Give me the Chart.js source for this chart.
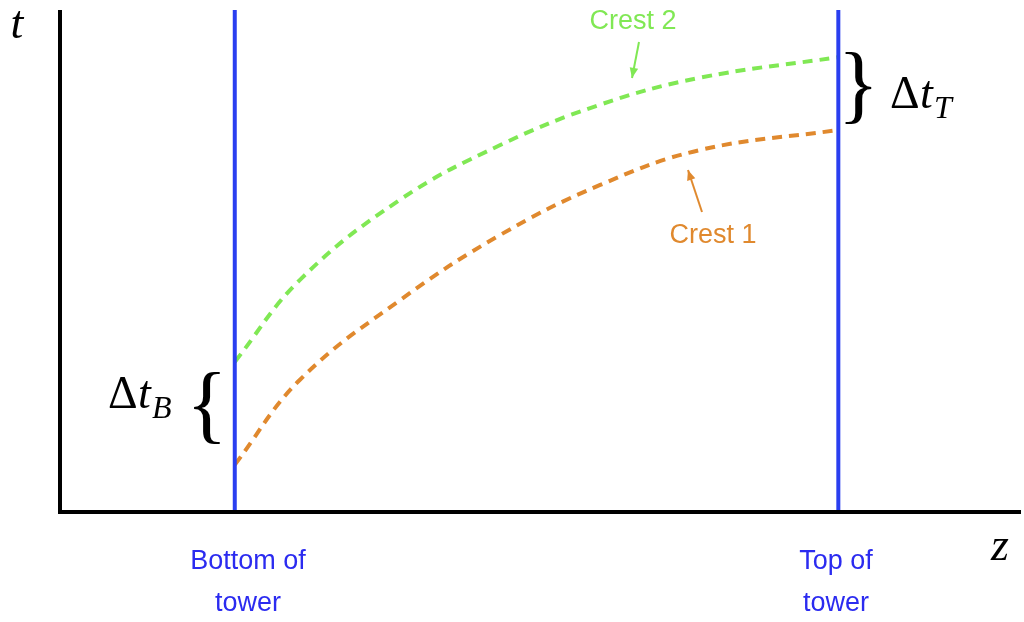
<!DOCTYPE html>
<html>
<head>
<meta charset="utf-8">
<script src="https://cdn.jsdelivr.net/npm/chart.js@4"></script>
<style>body{margin:0;background:#fff}</style>
</head>
<body>
<canvas id="c" width="1024" height="622"></canvas>
<script>
// positions along z (0..100) and t (0..100)
const crestZ = [18.3, 25.1, 35.6, 46.1, 56.5, 67.0, 81.5]
const crest2T = [29.9, 46.2, 62.2, 73.1, 81.1, 86.5, 90.6]
const crest1T = [9.4, 26.3, 42.2, 55.2, 65.1, 72.1, 76.1]
const bottomZ = 18.3
const topZ = 81.5

const pts = (xs, ys) => xs.map((x, i) => ({ x, y: ys[i] }))
const vline = (x) => [{ x, y: 0 }, { x, y: 100 }]

const labels = {
  id: 'labels',
  afterDraw (chart) {
    const { ctx, chartArea: a, scales: { x, y } } = chart
    ctx.save()
    // axes
    ctx.strokeStyle = '#000'
    ctx.lineWidth = 4
    ctx.beginPath()
    ctx.moveTo(a.left, a.top)
    ctx.lineTo(a.left, a.bottom)
    ctx.lineTo(a.right + 6, a.bottom)
    ctx.stroke()

    ctx.textAlign = 'center'
    ctx.textBaseline = 'middle'
    ctx.fillStyle = '#000'
    ctx.font = 'italic 46px "Liberation Serif"'
    ctx.fillText('t', 17, 26)
    ctx.fillText('z', 1000, 548)

    // braces
    ctx.font = '86px "Liberation Serif"'
    ctx.fillText('}', x.getPixelForValue(topZ) + 20, (y.getPixelForValue(90.6) + y.getPixelForValue(76.1)) / 2 - 4)
    ctx.fillText('{', x.getPixelForValue(bottomZ) - 28, (y.getPixelForValue(29.9) + y.getPixelForValue(9.4)) / 2 - 4)

    ctx.textAlign = 'left'
    ctx.font = '46px "Liberation Serif"'
    ctx.fillText('Δ', 890, 96)
    ctx.fillText('Δ', 108, 396)
    ctx.font = 'italic 46px "Liberation Serif"'
    ctx.fillText('t', 920, 96)
    ctx.fillText('t', 138, 396)
    ctx.font = 'italic 32px "Liberation Serif"'
    ctx.fillText('T', 934, 110)
    ctx.fillText('B', 152, 410)

    ctx.textAlign = 'center'
    ctx.font = '27px "Liberation Sans", sans-serif'
    ctx.fillStyle = '#2b2bf0'
    ctx.fillText('Bottom of', 248, 562)
    ctx.fillText('tower', 248, 604)
    ctx.fillText('Top of', 836, 562)
    ctx.fillText('tower', 836, 604)

    ctx.fillStyle = '#80e854'
    ctx.fillText('Crest 2', 633, 22)
    ctx.fillStyle = '#e0892e'
    ctx.fillText('Crest 1', 713, 236)

    // arrows
    const arrow = (x1, y1, x2, y2, c) => {
      ctx.strokeStyle = c
      ctx.fillStyle = c
      ctx.lineWidth = 2
      ctx.beginPath()
      ctx.moveTo(x1, y1)
      ctx.lineTo(x2, y2)
      ctx.stroke()
      const ang = Math.atan2(y2 - y1, x2 - x1)
      ctx.beginPath()
      ctx.moveTo(x2, y2)
      ctx.lineTo(x2 - 11 * Math.cos(ang - 0.4), y2 - 11 * Math.sin(ang - 0.4))
      ctx.lineTo(x2 - 11 * Math.cos(ang + 0.4), y2 - 11 * Math.sin(ang + 0.4))
      ctx.fill()
    }
    arrow(639, 42, 632, 78, '#80e854')
    arrow(702, 212, 688, 170, '#e0892e')
    ctx.restore()
  }
}

new Chart(document.getElementById('c'), {
  type: 'line',
  data: {
    datasets: [
      { data: vline(bottomZ), borderColor: '#2a3ff0', borderWidth: 4, pointRadius: 0 },
      { data: vline(topZ), borderColor: '#2a3ff0', borderWidth: 4, pointRadius: 0 },
      { data: pts(crestZ, crest2T), borderColor: '#80e854', borderWidth: 4, borderDash: [10, 7], pointRadius: 0, tension: 0.4 },
      { data: pts(crestZ, crest1T), borderColor: '#e0892e', borderWidth: 4, borderDash: [10, 7], pointRadius: 0, tension: 0.4 }
    ]
  },
  options: {
    responsive: false,
    animation: false,
    layout: { padding: { left: 60, top: 10, right: 9, bottom: 110 } },
    plugins: { legend: { display: false }, tooltip: { enabled: false } },
    scales: {
      x: { type: 'linear', min: 0, max: 100, display: false },
      y: { type: 'linear', min: 0, max: 100, display: false }
    }
  },
  plugins: [labels]
})
</script>
</body>
</html>
